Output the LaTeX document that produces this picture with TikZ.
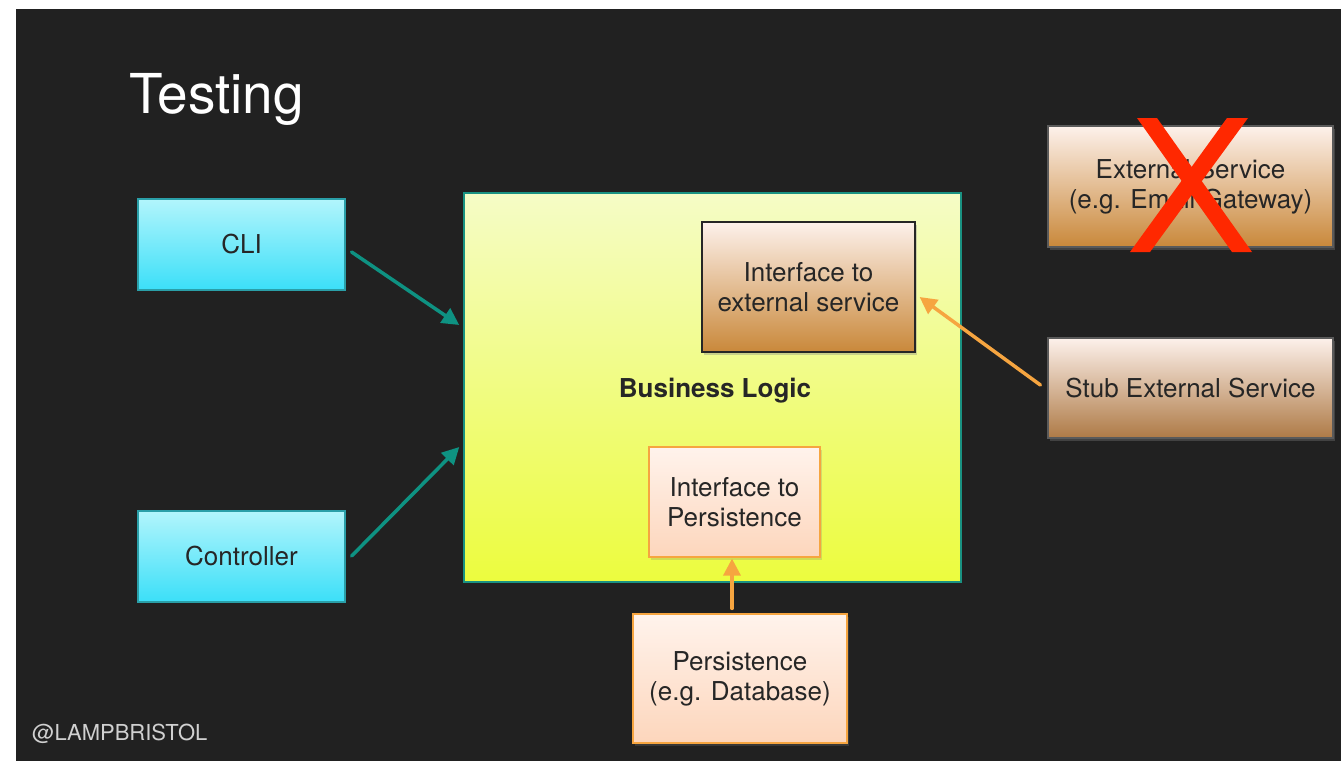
\documentclass[tikz,border=0pt]{standalone}
\usepackage{fontspec}
\setmainfont{TeX Gyre Heros}
\usetikzlibrary{arrows.meta,calc,shadows}

\definecolor{slate}{HTML}{212121}
\definecolor{ink}{HTML}{262626}
\definecolor{cyantop}{HTML}{B2F5FC}
\definecolor{cyanbot}{HTML}{3BDFF8}
\definecolor{cyanedge}{HTML}{2A9FA8}
\definecolor{limetop}{HTML}{F5FCC6}
\definecolor{limebot}{HTML}{ECFC3E}
\definecolor{tealedge}{HTML}{1A9282}
\definecolor{tealarrow}{HTML}{0E9282}
\definecolor{copptop}{HTML}{FDF1EB}
\definecolor{coppbot}{HTML}{C9883A}
\definecolor{peachtop}{HTML}{FFF3EC}
\definecolor{peachbot}{HTML}{FDD6BC}
\definecolor{orangeline}{HTML}{F6A540}
\definecolor{stubbot}{HTML}{AE7A46}
\definecolor{greyedge}{HTML}{5A5A5A}
\definecolor{crossred}{HTML}{FF2800}
\definecolor{handle}{HTML}{D0D0D0}

\tikzset{
  box/.style={rectangle, draw, line width=1.2pt, text=ink, align=center,
    font=\fontsize{26}{30}\selectfont, inner sep=0pt},
  clibox/.style={box, draw=cyanedge, top color=cyantop, bottom color=cyanbot,
    minimum width=207pt, minimum height=91pt},
  logicbox/.style={box, draw=tealedge, line width=1.5pt, top color=limetop,
    bottom color=limebot, minimum width=497pt, minimum height=389pt},
  copperbox/.style={box, top color=copptop, bottom color=coppbot,
    drop shadow={opacity=0.35, shadow xshift=2pt, shadow yshift=-3pt}},
  peachbox/.style={box, draw=orangeline, top color=peachtop, bottom color=peachbot,
    drop shadow={opacity=0.25, shadow xshift=2pt, shadow yshift=-3pt}},
  callarrow/.style={draw=tealarrow, line width=3.5pt, line cap=round,
    -{Triangle[length=17pt,width=17pt]}},
  stubarrow/.style={draw=orangeline, line width=3.5pt, line cap=round,
    -{Triangle[length=17pt,width=17pt]}},
}

\begin{document}
\begin{tikzpicture}[x=1pt,y=-1pt]
  % page and slide background
  \fill[white] (0,0) rectangle (1341,761);
  \fill[slate] (16,9) rectangle (1341,761);
  \useasboundingbox (0,0) rectangle (1341,761);

  % title and handle
  \node[anchor=base west, text=white, inner sep=0pt,
        font=\fontsize{55}{60}\selectfont] (title) at (129,113) {Testing};
  \node[anchor=base west, text=handle, inner sep=0pt,
        font=\fontsize{22}{26}\selectfont] (handle) at (32,740) {@LAMPBRISTOL};

  % callers
  \node[clibox] (cli) at (241.5,244.5) {CLI};
  \node[clibox] (ctrl) at (241.5,556.5) {Controller};

  % core logic
  \node[logicbox] (logic) at (712.5,387.5) {};
  \node[text=ink, inner sep=0pt, font=\bfseries\fontsize{26}{32}\selectfont]
    (logiclabel) at (715,391) {Business Logic};

  \node[copperbox, draw=black!85, minimum width=213pt, minimum height=130pt]
    (ifext) at (808.5,287) {Interface to\\external service};
  \node[peachbox, minimum width=171pt, minimum height=110pt]
    (ifpers) at (734.5,502) {Interface to\\Persistence};

  % outside the core
  \node[peachbox, minimum width=214pt, minimum height=129pt]
    (pers) at (740,678.5) {Persistence\\(e.g. Database)};
  \node[copperbox, draw=greyedge, top color=copptop, bottom color=coppbot,
        minimum width=285pt, minimum height=121pt]
    (ext) at (1190.5,186.5) {External Service\\(e.g. Email Gateway)};
  \node[copperbox, draw=greyedge, top color=copptop, bottom color=stubbot,
        minimum width=285pt, minimum height=100pt]
    (stub) at (1190.5,388) {Stub External Service};

  % the real service is crossed out
  \fill[crossred] (1137,118) -- (1157,118) -- (1252,252) -- (1232,252) -- cycle;
  \fill[crossred] (1227,118) -- (1248,118) -- (1150,252) -- (1130,252) -- cycle;

  % connectors
  \draw[callarrow] ($(cli.east)+(6,7.5)$) -- ($(logic.west)+(-4,-62.5)$);
  \draw[callarrow] ($(ctrl.east)+(6,-0.5)$) -- ($(logic.west)+(-4,59.5)$);
  \draw[stubarrow] ($(stub.west)+(-7,-3)$) -- ($(ifext.east)+(4,10)$);
  \draw[stubarrow] ($(pers.north)+(-8,-5)$) -- ($(ifpers.south)+(-2.5,1)$);
\end{tikzpicture}
\end{document}
